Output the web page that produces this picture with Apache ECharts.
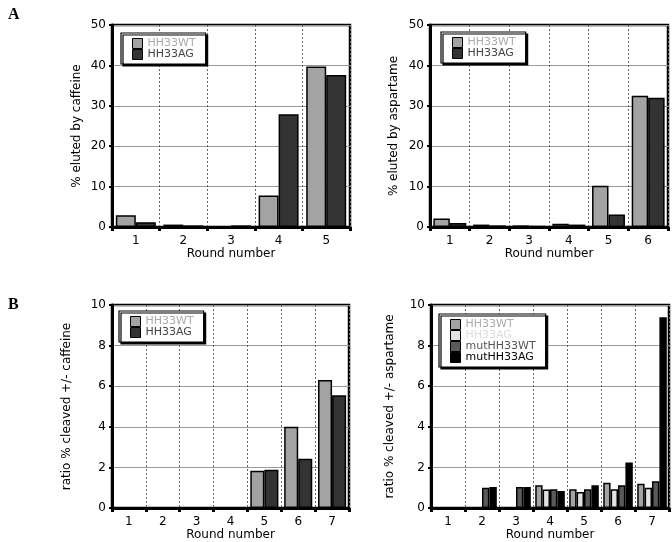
<!DOCTYPE html>
<html><head><meta charset="utf-8">
<script src="https://cdn.jsdelivr.net/npm/echarts@6/dist/echarts.min.js"></script>
<style>html,body{margin:0;padding:0;background:#fff}#c{width:672px;height:542px}</style>
</head><body><div id="c"></div>
<script>
// ---- data ----
const roundsA1 = ['1','2','3','4','5'];
const cafWT = [2.9, 0.6, 0.1, 7.8, 39.7];
const cafAG = [1.2, 0.4, 0.4, 27.9, 37.6];

const roundsA2 = ['1','2','3','4','5','6'];
const aspWT = [2.1, 0.6, 0.4, 0.8, 10.2, 32.5];
const aspAG = [1.0, 0.4, 0.2, 0.6, 3.1, 32.0];

const roundsB1 = ['1','2','3','4','5','6','7'];
const ratioCafWT = [0, 0, 0, 0, 1.83, 4.0, 6.3];
const ratioCafAG = [0, 0, 0, 0, 1.89, 2.43, 5.55];

const roundsB2 = ['1','2','3','4','5','6','7'];
const ratioAspWT = [0, 0, 0, 1.12, 0.92, 1.24, 1.2];
const ratioAspAG = [0, 0, 0, 0.91, 0.79, 0.92, 1.0];
const ratioAspMutWT = [0, 1.0, 1.04, 0.92, 0.92, 1.12, 1.32];
const ratioAspMutAG = [0, 1.04, 1.04, 0.84, 1.12, 2.24, 9.4];

const yTitles = ['% eluted by caffeine', '% eluted by aspartame', 'ratio % cleaved +/- caffeine', 'ratio % cleaved +/- aspartame'];
const xTitle = 'Round number';

// ---- styling ----
const FONT = 'DejaVu Sans';
const C_WT = '#a3a3a3', C_AG = '#333333', C_AG2 = '#e2e2e2', C_MWT = '#5a5a5a', C_MAG = '#000000';

const grids = [
  {left:112, top:25, width:238, height:202},
  {left:430, top:25, width:238, height:202},
  {left:112, top:305, width:237, height:203},
  {left:431, top:305, width:238, height:203}
];
const cats = [roundsA1, roundsA2, roundsB1, roundsB2];
const yMax = [50, 50, 10, 10];
const yInt = [10, 10, 2, 2];
const nameGaps = [29, 30, 39, 35];

const xAxis = cats.map((c, i) => ({
  type:'category', gridIndex:i, data:c, boundaryGap:true,
  name:xTitle, nameLocation:'middle', nameGap:20,
  nameTextStyle:{fontFamily:FONT, fontSize:12, color:'#000'},
  axisLine:{lineStyle:{color:'#000', width:3}},
  axisTick:{show:true, length:4, lineStyle:{color:'#000', width:3}},
  axisLabel:{fontFamily:FONT, fontSize:12, color:'#000', margin:8},
  splitLine:{show:true, lineStyle:{color:'#666', type:[2,2], width:1}}
}));
const yAxis = cats.map((c, i) => ({
  type:'value', gridIndex:i, min:0, max:yMax[i], interval:yInt[i],
  name:yTitles[i], nameLocation:'middle', nameGap:nameGaps[i],
  nameTextStyle:{fontFamily:FONT, fontSize:12, color:'#000'},
  axisLine:{show:true, lineStyle:{color:'#000', width:3}},
  axisTick:{show:true, length:3, lineStyle:{color:'#000', width:2}},
  axisLabel:{fontFamily:FONT, fontSize:12, color:'#000', margin:6},
  splitLine:{show:true, lineStyle:{color:'#999', width:1}}
}));

function bar(name, data, i, color, gap) {
  return {type:'bar', name:name, data:data, xAxisIndex:i, yAxisIndex:i,
    barGap:'0%', barCategoryGap:gap, animation:false,
    itemStyle:{color:color, borderColor:'#000', borderWidth:1.5}};
}
const series = [
  bar('HH33WT', cafWT, 0, C_WT, '16%'),
  bar('HH33AG', cafAG, 0, C_AG, '16%'),
  bar('HH33WT', aspWT, 1, C_WT, '17%'),
  bar('HH33AG', aspAG, 1, C_AG, '17%'),
  bar('HH33WT', ratioCafWT, 2, C_WT, '17%'),
  bar('HH33AG', ratioCafAG, 2, C_AG, '17%'),
  bar('HH33WT', ratioAspWT, 3, C_WT, '13%'),
  bar('HH33AG', ratioAspAG, 3, C_AG2, '13%'),
  bar('mutHH33WT', ratioAspMutWT, 3, C_MWT, '13%'),
  bar('mutHH33AG', ratioAspMutAG, 3, C_MAG, '13%')
];

function legendItem(name, color, textColor) {
  return {name:name, icon:'rect', itemStyle:{color:color, borderColor:'#000', borderWidth:1},
    textStyle:{color:textColor}};
}
function legend(left, top, items) {
  return {left:left, top:top, orient:'vertical', itemWidth:10, itemHeight:10, itemGap:0,
    padding:[5, 10, 4, 11], backgroundColor:'#fff', borderColor:'#000', borderWidth:1.2,
    shadowColor:'#000', shadowOffsetX:2, shadowOffsetY:2, shadowBlur:0,
    selectedMode:false, textStyle:{fontFamily:FONT, fontSize:11, lineHeight:11},
    data:items};
}
const legends = [
  legend(121, 33, [legendItem('HH33WT', C_WT, '#aaaaaa'), legendItem('HH33AG', C_AG, '#444444')]),
  legend(441, 32, [legendItem('HH33WT', C_WT, '#aaaaaa'), legendItem('HH33AG', C_AG, '#444444')]),
  legend(119, 311, [legendItem('HH33WT', C_WT, '#aaaaaa'), legendItem('HH33AG', C_AG, '#444444')]),
  legend(439, 314, [legendItem('HH33WT', C_WT, '#aaaaaa'), legendItem('HH33AG', C_AG2, '#dddddd'),
    legendItem('mutHH33WT', C_MWT, '#555555'), legendItem('mutHH33AG', C_MAG, '#000000')])
];

const chart = echarts.init(document.getElementById('c'), null, {renderer:'canvas'});
chart.setOption({
  animation:false,
  backgroundColor:'#fff',
  title:[
    {text:'A', left:3, top:2, textStyle:{fontFamily:'Liberation Serif', fontWeight:'bold', fontSize:16, color:'#000'}},
    {text:'B', left:3, top:292, textStyle:{fontFamily:'Liberation Serif', fontWeight:'bold', fontSize:16, color:'#000'}}
  ],
  grid: grids.map(g => Object.assign({show:true, borderColor:'#000', borderWidth:2.5, containLabel:false}, g)),
  xAxis: xAxis,
  yAxis: yAxis,
  legend: legends,
  series: series
});
</script></body></html>
